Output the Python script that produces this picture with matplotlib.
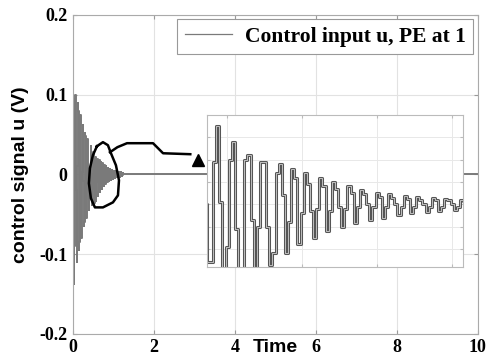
import numpy as np
import matplotlib.pyplot as plt

plt.rcParams['axes.unicode_minus'] = False

# control signal samples (mV), sample time 0.01 s
# start-up transient, t = 0 .. 0.41
u_start = [170, 95, -60, -137, -90, 20, 100, 85, -20, -110, -95, 10, 90, 80,
           -15, -95, -85, 5, 75, 68, -10, -80, -72, 3, 62, 58, -8, -65, -60, 2,
           52, 48, -6, -55, -50, 1, 44, 40, -5, -45, -42, 0]
# decaying part shown in the zoom window
u_zoom = [-26, -26, 19, 35, 1,
          -39, -19, 20, 28, -11,
          -36, -36, 20, 22, -7,
          -34, -10, 19, 19, -10,
          -27, -22, 14, 18, 4,
          -22, -8, 16, 12,
          -18, -4, 14, 9, -3,
          -15, -2, 12, 8,
          -12, -3, 10, 7, -1,
          -10, -2, 8, 5,
          -8.5, -1, 6.3, 4.5, 0,
          -7, -1, 5, 3.5,
          -6, -1, 4.5, 3, 0,
          -5, -1, 3.6, 2.5,
          -4, -1, 3.2, 2, 0,
          -3.6, -1, 2.7, 2,
          -3.2, -1, 2.3, 1.8, 0,
          -2.7, -1, 2, 1.5]
dt = 0.01
t_end = 10.0

u = np.array(u_start + u_zoom + [0, 0]) / 1000.0
t = np.arange(len(u) - 1) * dt
t = np.append(t, t_end)
t_zoom0 = len(u_start) * dt
t_zoom1 = (len(u_start) + len(u_zoom)) * dt

# hand drawn circle + connector (data coords)
blob_t = [0.594, 0.743, 0.866, 0.941, 1.064, 1.139, 1.114, 0.990, 0.743,
          0.545, 0.446, 0.396, 0.421, 0.495, 0.594]
blob_u = [0.0352, 0.0403, 0.0365, 0.0264, 0.0113, -0.0075, -0.0264, -0.0352,
          -0.0415, -0.0415, -0.0302, -0.0113, 0.0075, 0.0239, 0.0352]
link_t = [0.916, 1.10, 1.337, 1.98, 2.228, 2.90]
link_u = [0.0277, 0.0340, 0.039, 0.039, 0.0264, 0.0252]

serif_b = dict(family='Liberation Serif', weight='bold')
sans_b = dict(family='Liberation Sans', weight='bold')

fig = plt.figure(figsize=(4.89, 3.62), dpi=100)
ax = fig.add_axes([0.149, 0.078, 0.828, 0.881])

ax.plot(t, u, color='#7a7a7a', lw=1.4, drawstyle='steps-post',
        label='Control input u, PE at 1')
ax.set_xlim(0, 10)
ax.set_ylim(-0.2, 0.2)
ax.set_xticks([0, 2, 4, 6, 8, 10])
ax.set_yticks([-0.2, -0.1, 0, 0.1, 0.2])
ax.set_yticklabels(['-0.2', '-0.1', '0', '0.1', '0.2'])
ax.grid(True, color='#e2e2e2', lw=0.8)
ax.tick_params(direction='in', length=3, color='#999999', right=True, top=True,
               labelsize=13, pad=4)
for lab in ax.get_xticklabels() + ax.get_yticklabels():
    lab.set_fontfamily('Liberation Serif')
    lab.set_fontweight('bold')
for s in ax.spines.values():
    s.set_color('#aaaaaa')

ax.set_ylabel('control signal u (V)', fontsize=14, **sans_b)
ax.yaxis.set_label_coords(-0.108, 0.5)
ax.annotate('Time', xy=(5.0, 0), xycoords=('data', 'axes fraction'),
            xytext=(0, -4), textcoords='offset points', ha='center', va='top',
            fontsize=14, **sans_b)

leg = ax.legend(loc='upper right', prop=dict(size=15.5, **serif_b),
                handlelength=2.2, handletextpad=0.6, borderaxespad=0.2,
                borderpad=0.35, fancybox=False, framealpha=1)
leg.get_frame().set_edgecolor('#999999')
leg.get_frame().set_linewidth(0.8)
leg.get_lines()[0].set_linewidth(0.9)

ax.plot(blob_t, blob_u, color='black', lw=1.8)
ax.plot(link_t, link_u, color='black', lw=1.8)
ax.plot([3.09], [0.0175], marker='^', color='black', ms=9)

# zoom window
ins = fig.add_axes([0.423, 0.263, 0.524, 0.419])
ins.plot(t, u, color='#555555', lw=2.2, drawstyle='steps-post')
ins.plot(t, u, color='#cfcfcf', lw=0.6, drawstyle='steps-post')
ins.set_xlim(t_zoom0, t_zoom1 - 0.01)
ins.set_ylim(-0.028, 0.040)
ins.set_xticks([0.485, 0.725, 0.965, 1.205])
ins.set_yticks([-0.02, -0.01, 0.0, 0.01, 0.02, 0.03])
ins.grid(True, color='#e8e8e8', lw=0.7)
ins.tick_params(direction='in', length=2, color='#bbbbbb',
                labelleft=False, labelbottom=False, right=True, top=True)
for s in ins.spines.values():
    s.set_color('#bbbbbb')

fig.savefig('out.png', dpi=100)
